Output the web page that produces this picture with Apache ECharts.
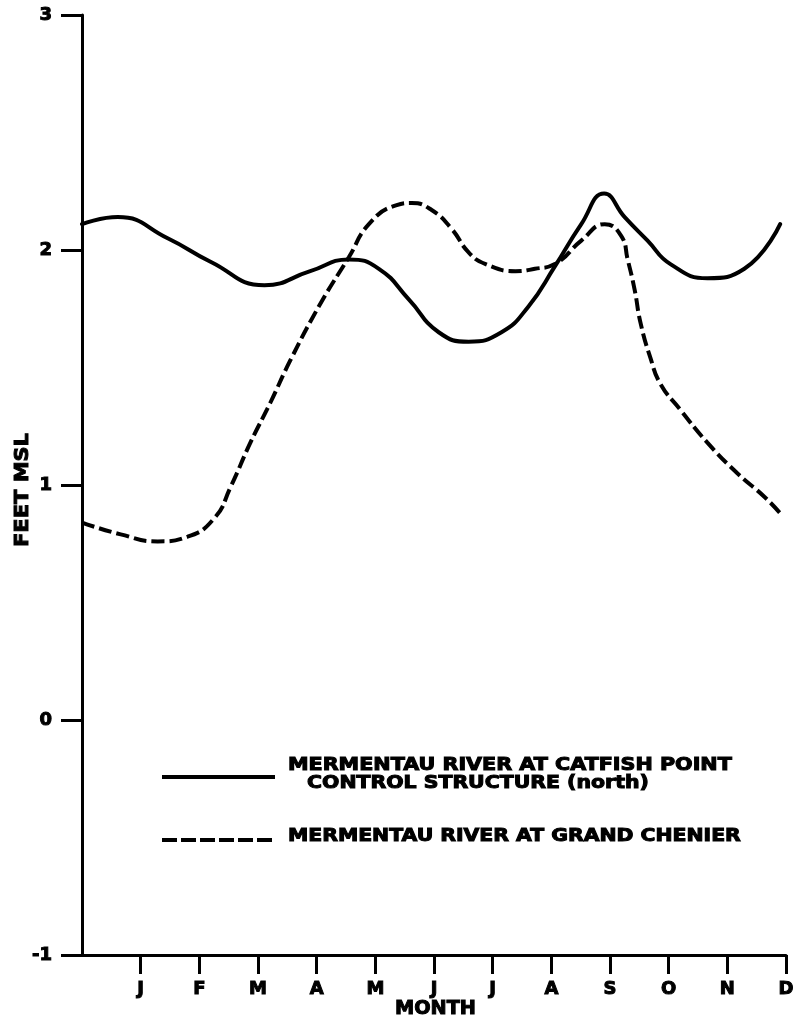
<!DOCTYPE html>
<html>
<head>
<meta charset="utf-8">
<title>Mermentau River stages</title>
<script src="https://cdn.jsdelivr.net/npm/echarts@6/dist/echarts.min.js"></script>
<style>
  html, body { margin: 0; padding: 0; background: #fff; }
  #chart { width: 797px; height: 1021px; }
</style>
</head>
<body>
<div id="chart"></div>
<script>
// Month ticks: position 0 is the start of the year, 1..12 carry the month initials
const monthTicks = [1, 2, 3, 4, 5, 6, 7, 8, 9, 10, 11, 12];
const monthLabels = ['J', 'F', 'M', 'A', 'M', 'J', 'J', 'A', 'S', 'O', 'N', 'D'];
const feetTicks = [-1, 0, 1, 2, 3];

// Mermentau River at Catfish Point Control Structure (north), feet MSL
const catfishMonth = [0, 0.61, 1.46, 2.19, 3.11, 3.89, 4.55, 5.06, 5.57, 6.08, 6.59, 7.15, 7.61, 8.06, 8.51, 8.9, 9.25, 9.64, 10.03, 10.66, 11.29, 11.9];
const catfishFeet  = [2.11, 2.14, 2.05, 1.95, 1.85, 1.91, 1.96, 1.92, 1.79, 1.65, 1.61, 1.65, 1.76, 1.93, 2.11, 2.24, 2.14, 2.04, 1.94, 1.88, 1.92, 2.11];

// Mermentau River at Grand Chenier, feet MSL
const chenierMonth = [0, 0.66, 1.29, 1.8, 2.26, 2.53, 2.87, 3.21, 3.55, 4.06, 4.55, 4.89, 5.35, 5.62, 5.96, 6.3, 6.59, 6.88, 7.39, 7.72, 8.06, 8.51, 8.91, 9.19, 9.3, 9.42, 9.52, 9.69, 9.86, 10.2, 10.66, 11.17, 11.63, 11.9];
const chenierFeet  = [0.84, 0.79, 0.76, 0.78, 0.86, 0.99, 1.18, 1.35, 1.53, 1.77, 1.97, 2.11, 2.19, 2.2, 2.17, 2.09, 1.99, 1.94, 1.91, 1.92, 1.94, 2.04, 2.11, 2.06, 1.96, 1.83, 1.69, 1.54, 1.43, 1.32, 1.18, 1.05, 0.95, 0.88];

const legendSolid = ['MERMENTAU RIVER AT CATFISH POINT', 'CONTROL STRUCTURE (north)'];
const legendDashed = 'MERMENTAU RIVER AT GRAND CHENIER';

const FONT = '"DejaVu Sans", "Liberation Sans", sans-serif';
const INK = '#000';
// heavy lettering: bold face plus a thin outline in the same ink
const HEAVY = { fontWeight: 'bold', fontFamily: FONT, textBorderColor: INK, textBorderWidth: 1 };

// horizontal stretch so a bold caption spans a given width
const measureCtx = document.createElement('canvas').getContext('2d');
function stretch(text, size, width) {
  measureCtx.font = 'bold ' + size + 'px "DejaVu Sans"';
  return width / (measureCtx.measureText(text).width + 1);
}

function pairs(xs, ys) { return xs.map((x, i) => [x, ys[i]]); }

function caption(text, x, y, size, width, extra) {
  return Object.assign({
    type: 'text', x: x, y: y, scaleX: stretch(text, size, width), silent: true,
    style: { text: text, fontSize: size, fontWeight: 'bold', fontFamily: FONT, fill: INK,
             stroke: INK, lineWidth: 1, textAlign: 'left', textVerticalAlign: 'middle' }
  }, extra || {});
}

const chart = echarts.init(document.getElementById('chart'), null, { renderer: 'canvas' });

chart.setOption({
  animation: false,
  backgroundColor: '#fff',
  grid: { left: 82, right: 8, top: 15, bottom: 66, containLabel: false },
  xAxis: {
    type: 'value', min: 0, max: 12, interval: 1,
    axisLine: { show: true, onZero: false, lineStyle: { color: INK, width: 3 } },
    axisTick: { show: true, customValues: monthTicks, length: 19, lineStyle: { color: INK, width: 3 } },
    axisLabel: Object.assign({
      customValues: monthTicks, margin: 25,
      formatter: v => monthLabels[Math.round(v) - 1] || '',
      color: INK, fontSize: 18
    }, HEAVY),
    splitLine: { show: false }
  },
  yAxis: {
    type: 'value', min: -1, max: 3, interval: 1,
    axisLine: { show: true, onZero: false, lineStyle: { color: INK, width: 3 } },
    axisTick: { show: true, customValues: feetTicks, length: 21, lineStyle: { color: INK, width: 3 } },
    axisLabel: Object.assign({ margin: 30, color: INK, fontSize: 18 }, HEAVY),
    splitLine: { show: false }
  },
  series: [
    {
      name: legendSolid.join(' '), type: 'line', data: pairs(catfishMonth, catfishFeet),
      smooth: 0.5, showSymbol: false, symbol: 'none',
      lineStyle: { color: INK, width: 4, cap: 'round', join: 'round' }
    },
    {
      name: legendDashed, type: 'line', data: pairs(chenierMonth, chenierFeet),
      smooth: 0.5, showSymbol: false, symbol: 'none',
      lineStyle: { color: INK, width: 4, type: [13, 5], cap: 'butt' }
    }
  ],
  graphic: [
    // axis titles
    caption('FEET MSL', 23, 490, 20, 115, {
      rotation: Math.PI / 2,
      style: { text: 'FEET MSL', fontSize: 20, fontWeight: 'bold', fontFamily: FONT, fill: INK,
               stroke: INK, lineWidth: 1, textAlign: 'center', textVerticalAlign: 'middle' }
    }),
    caption('MONTH', 395, 1009, 19, 82),
    // legend samples
    { type: 'line', silent: true, shape: { x1: 162, y1: 777, x2: 275, y2: 777 },
      style: { stroke: INK, lineWidth: 4 } },
    { type: 'line', silent: true, shape: { x1: 162, y1: 840, x2: 275, y2: 840 },
      style: { stroke: INK, lineWidth: 4, lineDash: [15, 4] } },
    // legend captions
    caption(legendSolid[0], 288, 766, 17, 445),
    caption(legendSolid[1], 307, 784, 17, 343),
    caption(legendDashed, 288, 837, 17, 454)
  ]
});
</script>
</body>
</html>
